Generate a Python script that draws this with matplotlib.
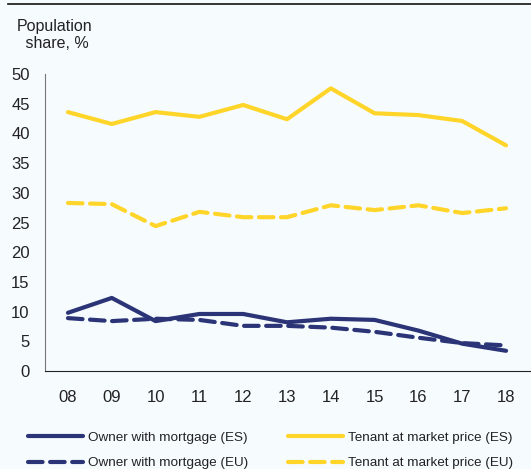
import matplotlib.pyplot as plt
from matplotlib.lines import Line2D

years = ['08', '09', '10', '11', '12', '13', '14', '15', '16', '17', '18']
owner_es = [9.8, 12.3, 8.4, 9.6, 9.6, 8.2, 8.8, 8.6, 6.8, 4.6, 3.4]
owner_eu = [8.9, 8.4, 8.8, 8.6, 7.6, 7.6, 7.3, 6.6, 5.6, 4.7, 4.3]
tenant_es = [43.6, 41.6, 43.6, 42.8, 44.8, 42.4, 47.6, 43.4, 43.1, 42.1, 38.0]
tenant_eu = [28.3, 28.1, 24.4, 26.8, 25.9, 25.9, 27.9, 27.1, 27.9, 26.6, 27.4]

navy = '#2b3476'
yellow = '#ffd52a'
bg = '#f6fbfe'

plt.rcParams['font.family'] = ['Liberation Sans', 'DejaVu Sans']

fig = plt.figure(figsize=(5.31, 4.69), dpi=100, facecolor=bg)
ax = fig.add_axes([0.0847, 0.209, 0.9153, 0.633], facecolor=bg)

x = range(len(years))
lw = 3.0
ax.plot(x, owner_es, color=navy, lw=lw, solid_capstyle='round', label='Owner with mortgage (ES)')
ax.plot(x, tenant_es, color=yellow, lw=lw, solid_capstyle='round', label='Tenant at market price (ES)')
ax.plot(x, owner_eu, color=navy, lw=lw, dashes=(3.5, 1.8), dash_capstyle='round', label='Owner with mortgage (EU)')
ax.plot(x, tenant_eu, color=yellow, lw=lw, dashes=(3.5, 1.8), dash_capstyle='round', label='Tenant at market price (EU)')

ax.set_xlim(-0.525, 10.57)
ax.set_ylim(0, 50)
ax.set_yticks(range(0, 51, 5))
ax.set_xticks(list(x))
ax.set_xticklabels(years)
ax.tick_params(axis='both', length=0, labelsize=12, colors='#222222')
ax.tick_params(axis='y', pad=11)
ax.tick_params(axis='x', pad=14)
for s in ['top', 'right']:
    ax.spines[s].set_visible(False)
ax.spines['left'].set_color('#777777')
ax.spines['bottom'].set_color('#222222')

fig.text(0.103, 0.926, 'Population\n share, %', ha='center', va='center', fontsize=11.5,
         color='#222222', linespacing=1.2)

fig.add_artist(Line2D([0.015, 1.0], [0.991, 0.991], color='#111111', lw=1.2))

handles, labels = ax.get_legend_handles_labels()
order = [0, 2, 1, 3]
leg = fig.legend([handles[i] for i in order], [labels[i] for i in order],
                 loc='upper left', bbox_to_anchor=(0.043, 0.091), ncol=2, frameon=False,
                 fontsize=9.7, handlelength=4.1, handletextpad=0.37, columnspacing=2.9,
                 labelspacing=0.95, borderaxespad=0)
for t in leg.get_texts():
    t.set_color('#222222')

fig.savefig('out.png', dpi=100, facecolor=bg)
